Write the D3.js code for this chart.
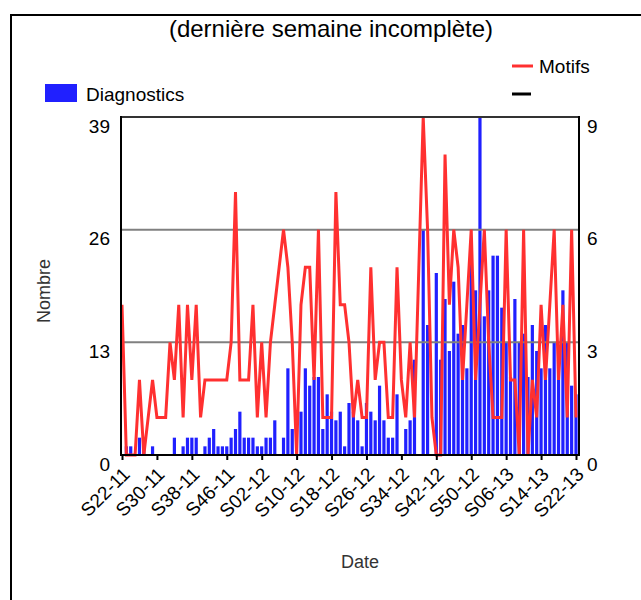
<!DOCTYPE html>
<html>
<head>
<meta charset="utf-8">
<script src="https://cdn.jsdelivr.net/npm/d3@7"></script>
<style>
  body { margin: 0; background: #fff; }
  svg { display: block; font-family: "Liberation Sans", Arial, sans-serif; }
</style>
</head>
<body>
<svg id="chart" width="641" height="600"></svg>
<script>
const weeks = [
  "S22-11","S23-11","S24-11","S25-11","S26-11","S27-11","S28-11","S29-11","S30-11","S31-11",
  "S32-11","S33-11","S34-11","S35-11","S36-11","S37-11","S38-11","S39-11","S40-11","S41-11",
  "S42-11","S43-11","S44-11","S45-11","S46-11","S47-11","S48-11","S49-11","S50-11","S51-11","S52-11",
  "S01-12","S02-12","S03-12","S04-12","S05-12","S06-12","S07-12","S08-12","S09-12","S10-12",
  "S11-12","S12-12","S13-12","S14-12","S15-12","S16-12","S17-12","S18-12","S19-12","S20-12",
  "S21-12","S22-12","S23-12","S24-12","S25-12","S26-12","S27-12","S28-12","S29-12","S30-12",
  "S31-12","S32-12","S33-12","S34-12","S35-12","S36-12","S37-12","S38-12","S39-12","S40-12",
  "S41-12","S42-12","S43-12","S44-12","S45-12","S46-12","S47-12","S48-12","S49-12","S50-12",
  "S51-12","S52-12",
  "S01-13","S02-13","S03-13","S04-13","S05-13","S06-13","S07-13","S08-13","S09-13","S10-13",
  "S11-13","S12-13","S13-13","S14-13","S15-13","S16-13","S17-13","S18-13","S19-13","S20-13",
  "S21-13","S22-13"
];

const diagnostics = [
  0,1,1,0,2,1,0,1,0,0,
  0,0,2,0,1,2,2,2,0,1,
  2,3,1,1,1,2,3,5,2,2,
  2,1,1,2,2,4,0,2,10,3,
  0,5,10,8,9,9,3,7,5,4,
  5,1,6,5,4,1,6,5,4,8,
  4,2,2,7,0,3,4,11,0,26,
  15,0,21,11,18,12,20,14,15,10,
  22,19,39,16,19,23,23,17,13,9,
  18,13,14,9,15,12,10,15,10,13,
  11,19,13,8,7
];

const motifs = [
  4,0,0,0,2,0,1,2,1,1,
  1,3,2,4,1,4,2,4,1,2,
  2,2,2,2,2,3,7,2,2,2,
  4,1,3,1,3,4,5,6,5,3,
  0,4,5,5,2,6,1,1,1,7,
  4,4,3,1,2,1,1,5,2,3,
  3,1,1,5,2,1,3,1,5,9,
  6,1,0,0,8,4,6,5,2,4,
  6,2,4,6,3,1,1,1,6,2,
  2,0,6,0,2,1,4,2,4,6,
  2,4,1,6,1
];

const xTickLabels = ["S22-11","S30-11","S38-11","S46-11","S02-12","S10-12","S18-12",
                     "S26-12","S34-12","S42-12","S50-12","S06-13","S14-13","S22-13"];
const leftTicks = [0, 13, 26, 39];
const rightTicks = [0, 3, 6, 9];
const gridTicks = [13, 26];

const title = "(dernière semaine incomplète)";
const legendBar = "Diagnostics";
const legendLine = "Motifs";
const yTitle = "Nombre";
const xTitle = "Date";

const svg = d3.select("#chart");
const L = 121, R = 579, T = 117, B = 455;

const x = d3.scalePoint().domain(weeks).range([122, 576]);
const yL = d3.scaleLinear().domain([0, 39]).range([B, T]);
const yR = d3.scaleLinear().domain([0, 9]).range([B, T]);

svg.append("rect").attr("width", 641).attr("height", 600).attr("fill", "#fff");

// outer frame
svg.append("path").attr("d", "M11,600 L11,15 L641,15")
  .attr("fill", "none").attr("stroke", "#000").attr("stroke-width", 2);

// title
svg.append("text").attr("x", 331).attr("y", 37).attr("text-anchor", "middle")
  .attr("font-size", 24).attr("fill", "#000").text(title);

// legend
svg.append("rect").attr("x", 45).attr("y", 84).attr("width", 32).attr("height", 18).attr("fill", "#2020ff");
svg.append("text").attr("x", 86).attr("y", 101).attr("font-size", 19).attr("fill", "#000").text(legendBar);
svg.append("line").attr("x1", 512).attr("x2", 533).attr("y1", 66).attr("y2", 66)
  .attr("stroke", "#ff3030").attr("stroke-width", 3);
svg.append("text").attr("x", 539).attr("y", 73).attr("font-size", 19).attr("fill", "#000").text(legendLine);
svg.append("line").attr("x1", 512).attr("x2", 531).attr("y1", 94).attr("y2", 94)
  .attr("stroke", "#000").attr("stroke-width", 3);

// bars
svg.append("g").selectAll("rect").data(weeks).join("rect")
  .attr("x", (w) => x(w) - 1.6)
  .attr("width", 3.2)
  .attr("y", (w, i) => yL(diagnostics[i]))
  .attr("height", (w, i) => B - yL(diagnostics[i]))
  .attr("fill", "#2020ff");

// gridlines
svg.append("g").selectAll("line").data(gridTicks).join("line")
  .attr("x1", L).attr("x2", R)
  .attr("y1", (d) => yL(d)).attr("y2", (d) => yL(d))
  .attr("stroke", "#808080").attr("stroke-width", 2);

// line
const line = d3.line().x((w) => x(w)).y((w, i) => yR(motifs[i]));
svg.append("path").datum(weeks).attr("d", line)
  .attr("fill", "none").attr("stroke", "#ff3030").attr("stroke-width", 3)
  .attr("stroke-linejoin", "miter").attr("stroke-miterlimit", 4);

// plot frame
svg.append("line").attr("x1", L).attr("x2", R).attr("y1", T).attr("y2", T)
  .attr("stroke", "#333").attr("stroke-width", 2);
svg.append("line").attr("x1", L).attr("x2", L).attr("y1", T - 1).attr("y2", B + 1)
  .attr("stroke", "#000").attr("stroke-width", 2);
svg.append("line").attr("x1", R).attr("x2", R).attr("y1", T - 1).attr("y2", B + 1)
  .attr("stroke", "#000").attr("stroke-width", 2);

// left axis
const gL = svg.append("g").attr("transform", `translate(${L},0)`)
  .call(d3.axisLeft(yL).tickValues(leftTicks).tickSize(0).tickPadding(11).tickFormat(d3.format("d")));
gL.select(".domain").remove();
gL.selectAll("text").attr("font-size", 19).attr("font-family", "Liberation Sans, Arial, sans-serif")
  .attr("fill", "#000").attr("dy", "0.8em");

// right axis
const gR = svg.append("g").attr("transform", `translate(${R},0)`)
  .call(d3.axisRight(yR).tickValues(rightTicks).tickSize(0).tickPadding(8).tickFormat(d3.format("d")));
gR.select(".domain").remove();
gR.selectAll("text").attr("font-size", 19).attr("font-family", "Liberation Sans, Arial, sans-serif")
  .attr("fill", "#000").attr("dy", "0.8em");

// bottom axis
const gB = svg.append("g").attr("transform", `translate(0,${B})`)
  .call(d3.axisBottom(x).tickValues(xTickLabels).tickSize(5).tickPadding(4));
gB.select(".domain").attr("stroke", "#000").attr("stroke-width", 2).attr("d", `M${L},0H${R}`);
gB.selectAll(".tick line").attr("stroke", "#000").attr("stroke-width", 2);
gB.selectAll("text")
  .attr("font-size", 19).attr("font-family", "Liberation Sans, Arial, sans-serif").attr("fill", "#000")
  .attr("text-anchor", "end")
  .attr("transform", "translate(-1,11) rotate(-45)")
  .attr("x", 0).attr("y", 0).attr("dy", "0.7em");

// axis titles
svg.append("text").attr("transform", "translate(50,291) rotate(-90)").attr("text-anchor", "middle")
  .attr("font-size", 18).attr("fill", "#333").text(yTitle);
svg.append("text").attr("x", 360).attr("y", 568).attr("text-anchor", "middle")
  .attr("font-size", 18).attr("fill", "#333").text(xTitle);
</script>
</body>
</html>
